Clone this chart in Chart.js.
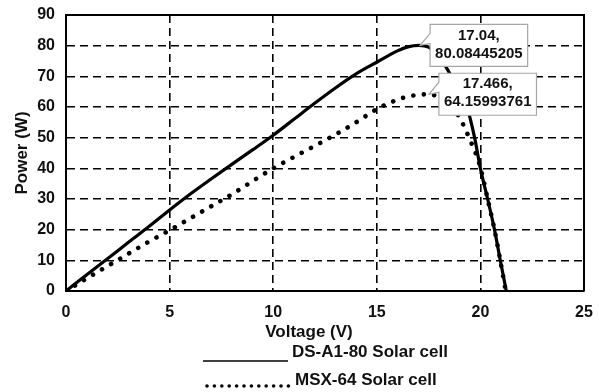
<!DOCTYPE html>
<html>
<head>
<meta charset="utf-8">
<script src="https://cdn.jsdelivr.net/npm/chart.js@4/dist/chart.umd.min.js"></script>
<style>
  html, body { margin: 0; padding: 0; background: #fff; }
</style>
</head>
<body>
<canvas id="myChart" width="599" height="392"></canvas>
<script>
  // P-V curves of the two panels
  const ds_label = 'DS-A1-80 Solar cell'
  const ds_volt  = [0, 1, 2, 3, 4, 5, 6, 7, 8, 9, 10, 11, 12, 13, 14, 15, 16, 16.5, 17.04, 17.5, 18, 18.6, 19, 19.35, 19.72, 20, 20.35, 20.68, 20.96, 21.25]
  const ds_power = [0, 5.3, 10.5, 15.8, 21, 26.4, 31.6, 36.5, 41.3, 46, 50.8, 56, 61.2, 66.2, 70.8, 74.6, 78.3, 79.6, 80.08445205, 79.5, 76.5, 70, 64.5, 60, 50, 40, 30, 20, 10, 0]

  const msx_label = 'MSX-64 Solar cell'
  const msx_volt  = [0, 1, 2, 3, 4, 5, 6, 7, 8, 9, 10, 11, 12, 13, 14, 15, 16, 16.8, 17.466, 18, 18.5, 19, 19.35, 19.6, 19.85, 20.05, 20.35, 20.68, 20.96, 21.22]
  const msx_power = [0, 4.1, 8.1, 12.1, 16.1, 19.8, 23.7, 27.6, 31.5, 35.8, 40, 43.7, 47.3, 51, 55, 59.3, 62.4, 63.8, 64.15993761, 63.2, 60.5, 56.5, 51.6, 47.7, 43.5, 39, 30, 20, 10, 0]

  // maximum power points shown in the callouts
  const ds_peak  = [17.04, 80.08445205]
  const msx_peak = [17.466, 64.15993761]

  const x_ticks = [0, 5, 10, 15, 20, 25]
  const y_ticks = [0, 10, 20, 30, 40, 50, 60, 70, 80, 90]
  const x_title = 'Voltage (V)'
  const y_title = 'Power (W)'

  const font_family = '"Liberation Sans", Arial, sans-serif'
  const ink = '#111'

  Chart.defaults.font.family = font_family
  Chart.defaults.color = ink

  function to_points(xs, ys) {
    return xs.map((v, i) => ({x: v, y: ys[i]}))
  }

  function edge_color(first, last) {
    return function(ctx) {
      if (!ctx.tick) return '#000'
      return (ctx.tick.value === first || ctx.tick.value === last) ? 'rgba(0,0,0,0)' : '#000'
    }
  }

  function draw_callout(chart, peak) {
    const ctx = chart.ctx
    const px = chart.scales.x.getPixelForValue(peak[0])
    const py = chart.scales.y.getPixelForValue(peak[1])
    const lines = [`${peak[0]},`, `${peak[1]}`]

    ctx.save()
    ctx.font = `bold 15px ${font_family}`
    const w = Math.max(...lines.map(t => ctx.measureText(t).width)) + 10
    const h = 42
    const left = px + 11, top = py - 21

    ctx.beginPath()
    ctx.moveTo(left, top)
    ctx.lineTo(left + w, top)
    ctx.lineTo(left + w, top + h)
    ctx.lineTo(left, top + h)
    ctx.lineTo(left, top + 19)
    ctx.lineTo(px + 1, py)
    ctx.lineTo(left, top + 9)
    ctx.closePath()
    ctx.fillStyle = '#fff'
    ctx.fill()
    ctx.strokeStyle = '#a6a6a6'
    ctx.lineWidth = 1.2
    ctx.stroke()

    ctx.fillStyle = ink
    ctx.textAlign = 'center'
    ctx.textBaseline = 'middle'
    ctx.fillText(lines[0], left + w / 2, top + 11)
    ctx.fillText(lines[1], left + w / 2, top + 29)
    ctx.restore()
  }

  const extras = {
    id: 'extras',
    afterDatasetsDraw(chart) {
      const ctx = chart.ctx
      const a = chart.chartArea

      // top and right edges of the plot frame
      ctx.save()
      ctx.strokeStyle = '#000'
      ctx.lineWidth = 2
      ctx.beginPath()
      ctx.moveTo(a.left, a.top)
      ctx.lineTo(a.right, a.top)
      ctx.lineTo(a.right, a.bottom)
      ctx.stroke()
      ctx.restore()

      draw_callout(chart, ds_peak)
      draw_callout(chart, msx_peak)
    },
    afterDraw(chart) {
      const ctx = chart.ctx
      const sets = chart.data.datasets
      ctx.save()
      ctx.font = `bold 17px ${font_family}`
      ctx.fillStyle = ink
      ctx.textBaseline = 'middle'

      // x axis title, sitting a bit left of centre
      ctx.textAlign = 'center'
      ctx.fillText(x_title, 309, 332)

      ctx.textAlign = 'left'
      // solid sample
      ctx.strokeStyle = '#000'
      ctx.lineWidth = 1.5
      ctx.beginPath()
      ctx.moveTo(203, 361)
      ctx.lineTo(288, 361)
      ctx.stroke()
      ctx.fillText(sets[0].label, 292, 352)

      // dotted sample
      ctx.fillStyle = '#000'
      for (let x = 207; x <= 290; x += 7.4) {
        ctx.beginPath()
        ctx.arc(x, 386, 1.8, 0, Math.PI * 2)
        ctx.fill()
      }
      ctx.fillStyle = ink
      ctx.fillText(sets[1].label, 295, 380)
      ctx.restore()
    }
  }

  const tick_font = {size: 16, weight: 'bold'}
  const title_font = {size: 17, weight: 'bold'}

  const config = {
    type: 'line',
    data: {
      datasets: [
        {
          label: ds_label,
          data: to_points(ds_volt, ds_power),
          borderColor: '#000',
          borderWidth: 3.2,
          pointRadius: 0,
          fill: false,
          cubicInterpolationMode: 'monotone',
        },
        {
          label: msx_label,
          data: to_points(msx_volt, msx_power),
          borderColor: '#000',
          borderWidth: 4.6,
          borderDash: [0.01, 10.5],
          borderCapStyle: 'round',
          pointRadius: 0,
          fill: false,
          cubicInterpolationMode: 'monotone',
        },
      ]
    },
    options: {
      responsive: false,
      animation: false,
      layout: {padding: {left: 0, right: 15, top: 15, bottom: 46}},
      plugins: {
        legend: {display: false},
        tooltip: {enabled: false},
      },
      scales: {
        x: {
          type: 'linear',
          min: x_ticks[0],
          max: x_ticks[x_ticks.length - 1],
          afterBuildTicks: s => { s.ticks = x_ticks.map(v => ({value: v})) },
          ticks: {font: tick_font, color: ink, padding: 12, maxRotation: 0},
          grid: {color: edge_color(0, 25), lineWidth: 1.6, drawTicks: false},
          border: {color: '#000', width: 2, dash: [8, 5]},
          title: {display: false, text: x_title},
          afterFit: s => { s.height = 55; s.paddingLeft = 0; s.paddingRight = 0 },
        },
        y: {
          min: y_ticks[0],
          max: y_ticks[y_ticks.length - 1],
          afterBuildTicks: s => { s.ticks = y_ticks.map(v => ({value: v})) },
          ticks: {font: tick_font, color: ink, padding: 11},
          grid: {color: edge_color(0, 90), lineWidth: 1.6, drawTicks: false},
          border: {color: '#000', width: 2, dash: [8, 5]},
          title: {display: true, text: y_title, font: title_font, color: ink, padding: {top: 12, bottom: 0}},
          afterFit: s => { s.width = 66; s.paddingTop = 0; s.paddingBottom = 0 },
        },
      }
    },
    plugins: [extras]
  }

  const myChart = new Chart(document.getElementById('myChart'), config)
</script>
</body>
</html>
